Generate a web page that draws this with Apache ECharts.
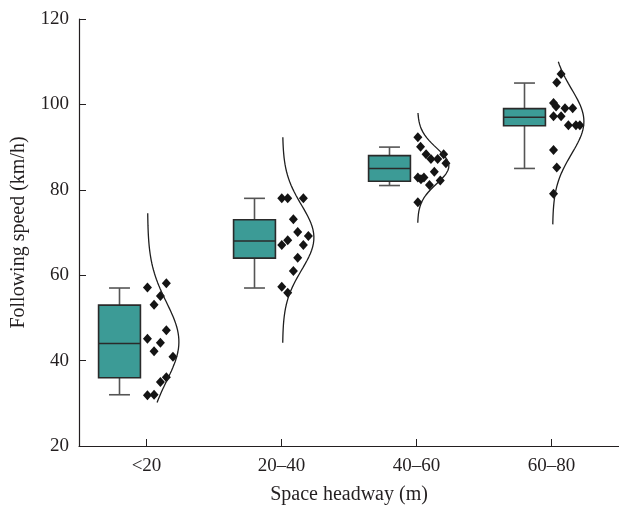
<!DOCTYPE html>
<html>
<head>
<meta charset="utf-8">
<script src="https://cdn.jsdelivr.net/npm/echarts@6/dist/echarts.min.js"></script>
<style>html,body{margin:0;padding:0;background:#fff}#c{width:619px;height:512px}</style>
</head>
<body>
<div id="c"></div>
<script>
// ---- data ----
var categories = ['<20', '20\u201340', '40\u201360', '60\u201380'];
var yTicks = [20, 40, 60, 80, 100, 120];
// box statistics: [min, q1, median, q3, max]
var boxStats = [
  [32, 36, 44, 53, 57],
  [57, 64, 68, 73, 78],
  [81, 82, 85, 88, 90],
  [85, 95, 97, 99, 105]
];
// raw points per category: values and horizontal jitter (fraction of category spacing)
var pts1Values = [57.1, 58.1, 55.1, 53.1, 47.1, 45.1, 44.2, 42.2, 40.9, 36.1, 35.0, 31.9, 32.0];
var pts1Jitter = [0.007, 0.147, 0.103, 0.056, 0.147, 0.007, 0.103, 0.056, 0.196, 0.147, 0.103, 0.007, 0.056];
var pts2Values = [78, 78, 78, 73.1, 70.1, 69.2, 68.2, 67.1, 67.1, 64.1, 61.0, 57.3, 55.9];
var pts2Jitter = [0.002, 0.046, 0.162, 0.088, 0.120, 0.199, 0.046, 0.002, 0.162, 0.120, 0.088, 0.002, 0.046];
var pts3Values = [92.3, 90.1, 88.3, 88.3, 87.2, 87.2, 86.2, 84.2, 82.9, 82.5, 82.9, 82.2, 81.1, 77.1];
var pts3Jitter = [0.010, 0.030, 0.071, 0.201, 0.107, 0.157, 0.218, 0.132, 0.010, 0.033, 0.055, 0.176, 0.096, 0.010];
var pts4Values = [107.1, 105.1, 100.3, 99.5, 99.1, 99.1, 97.2, 97.2, 95.1, 95.1, 95.1, 89.3, 85.2, 79.1];
var pts4Jitter = [0.071, 0.039, 0.015, 0.034, 0.100, 0.157, 0.015, 0.071, 0.125, 0.181, 0.210, 0.015, 0.039, 0.015];
// fitted normal curves: mean, sd, drawn range
var curveMean = [44.4, 68.8, 85.6, 96.0];
var curveSd = [9.2, 7.6, 4.2, 7.6];
var curveLow = [30.2, 44.2, 72.3, 71.9];
var curveHigh = [74.5, 92.3, 98.0, 110.0];

// ---- build ----
var BOX_OFF = -0.2, BOX_W = 0.31, CAP_W = 0.155;
var CURVE_BASE = 0.008, CURVE_AMP = 0.232;
var allPts = [pts1Values, pts2Values, pts3Values, pts4Values];
var allJit = [pts1Jitter, pts2Jitter, pts3Jitter, pts4Jitter];

var boxData = boxStats.map(function (s, i) { return [i + 1 + BOX_OFF].concat(s); });
var scatterData = [];
allPts.forEach(function (vals, i) {
  vals.forEach(function (v, j) { scatterData.push([i + 1 + allJit[i][j], v]); });
});

var series = [];
series.push({
  type: 'custom',
  data: boxData,
  z: 2,
  renderItem: function (params, api) {
    var x = api.value(0);
    var mn = api.coord([x, api.value(1)]);
    var q1 = api.coord([x, api.value(2)]);
    var md = api.coord([x, api.value(3)]);
    var q3 = api.coord([x, api.value(4)]);
    var mx = api.coord([x, api.value(5)]);
    var bw = api.size([BOX_W, 0])[0];
    var cw = api.size([CAP_W, 0])[0];
    var cx = mn[0];
    var wStyle = { stroke: '#555555', lineWidth: 1.6 };
    return {
      type: 'group',
      children: [
        { type: 'line', shape: { x1: cx, y1: mx[1], x2: cx, y2: q3[1] }, style: wStyle },
        { type: 'line', shape: { x1: cx, y1: q1[1], x2: cx, y2: mn[1] }, style: wStyle },
        { type: 'line', shape: { x1: cx - cw / 2, y1: mx[1], x2: cx + cw / 2, y2: mx[1] }, style: wStyle },
        { type: 'line', shape: { x1: cx - cw / 2, y1: mn[1], x2: cx + cw / 2, y2: mn[1] }, style: wStyle },
        { type: 'rect', shape: { x: cx - bw / 2, y: q3[1], width: bw, height: q1[1] - q3[1] },
          style: { fill: '#3c9b96', stroke: '#2a2a2a', lineWidth: 1.6 } },
        { type: 'line', shape: { x1: cx - bw / 2, y1: md[1], x2: cx + bw / 2, y2: md[1] },
          style: { stroke: '#2a2a2a', lineWidth: 1.6 } }
      ]
    };
  }
});
series.push({
  type: 'scatter',
  data: scatterData,
  symbol: 'diamond',
  symbolSize: [9, 10],
  itemStyle: { color: '#141414', opacity: 1 },
  z: 3
});
curveMean.forEach(function (mu, i) {
  var sd = curveSd[i], line = [];
  var n = 120;
  for (var k = 0; k <= n; k++) {
    var y = curveLow[i] + (curveHigh[i] - curveLow[i]) * k / n;
    var x = i + 1 + CURVE_BASE + CURVE_AMP * Math.exp(-(y - mu) * (y - mu) / (2 * sd * sd));
    line.push([x, y]);
  }
  series.push({
    type: 'line',
    data: line,
    showSymbol: false,
    symbol: 'none',
    lineStyle: { color: '#1e1e1e', width: 1.3 },
    z: 4,
    silent: true
  });
});

var font = 'Liberation Serif, DejaVu Serif, serif';
var txt = '#231f20';
var chart = echarts.init(document.getElementById('c'), null, { renderer: 'canvas' });
chart.setOption({
  animation: false,
  backgroundColor: '#ffffff',
  grid: { left: 79, top: 19, width: 544, height: 427 },
  xAxis: {
    type: 'value',
    min: 0.5,
    max: 4.5,
    name: 'Space headway (m)',
    nameLocation: 'middle',
    nameGap: 39,
    nameTextStyle: { fontFamily: font, fontSize: 20, color: txt },
    axisLine: { show: true, lineStyle: { color: txt, width: 1.2 } },
    axisTick: { show: true, inside: true, length: 7, customValues: [1, 2, 3, 4], lineStyle: { color: txt, width: 1 } },
    axisLabel: { show: true, customValues: [1, 2, 3, 4], margin: 11, fontFamily: font, fontSize: 19, color: txt,
      formatter: function (v) { return categories[Math.round(v) - 1] || ''; } },
    splitLine: { show: false }
  },
  yAxis: {
    type: 'value',
    min: 20,
    max: 120,
    interval: 20,
    name: 'Following speed (km/h)',
    nameLocation: 'middle',
    nameGap: 50,
    nameTextStyle: { fontFamily: font, fontSize: 20, color: txt },
    axisLine: { show: true, lineStyle: { color: txt, width: 1.2 } },
    axisTick: { show: true, inside: true, length: 7, lineStyle: { color: txt, width: 1 } },
    axisLabel: { margin: 10, fontFamily: font, fontSize: 19, color: txt,
      formatter: function (v) { return yTicks.indexOf(v) >= 0 ? String(v) : ''; } },
    splitLine: { show: false }
  },
  series: series
});
</script>
</body>
</html>
